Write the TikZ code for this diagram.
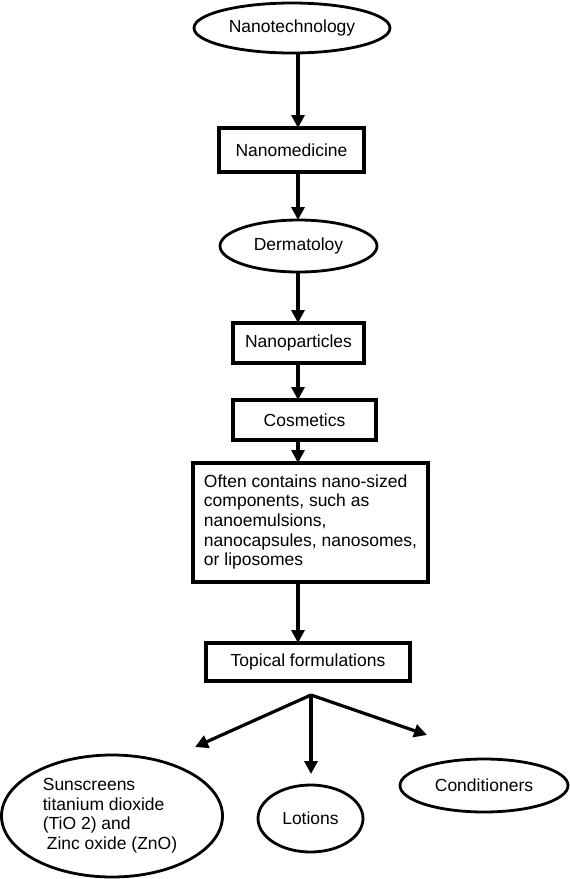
\documentclass[tikz,border=0pt]{standalone}
\usepackage{fontspec}
\setmainfont{Liberation Sans}
\usetikzlibrary{shapes.geometric,arrows.meta}
\begin{document}
\begin{tikzpicture}[x=1pt,y=-1pt,
  every node/.style={font=\fontsize{17.5}{19.7}\selectfont, inner sep=0pt, outer sep=0pt},
  oval/.style={draw, ellipse, line width=2.8pt},
  boxnode/.style={draw, rectangle, line width=3.6pt},
  flow/.style={line width=3.2pt, -{Triangle[length=13pt,width=13pt]}}]
\useasboundingbox (0,0) rectangle (570,879);
\coordinate (ax) at (298,0);
\node[oval, minimum width=196pt, minimum height=50pt] (nt) at (292,28) {Nanotechnology};
\node[boxnode, minimum width=145pt, minimum height=44pt] (nm) at (291.5,150) {Nanomedicine};
\node[oval, minimum width=157pt, minimum height=52pt] (dm) at (298.5,246) {Dermatoloy};
\node[boxnode, minimum width=131pt, minimum height=40pt] (np) at (298.5,343) {Nanoparticles};
\node[boxnode, minimum width=143pt, minimum height=40pt] (cs) at (304.5,420) {Cosmetics};
\node[boxnode, minimum width=235pt, minimum height=119pt] (oc) at (310.5,522.5) {%
  \begin{tabular}{@{}l@{}}
  Often contains nano-sized\\
  components, such as\\
  nanoemulsions,\\
  nanocapsules, nanosomes,\\
  or liposomes\end{tabular}};
\node[boxnode, minimum width=204pt, minimum height=38pt] (tf) at (308,662) {Topical formulations};
\node[oval, minimum width=221pt, minimum height=122pt] (ss) at (112,816) {%
  \raisebox{4pt}{\begin{tabular}{@{}l@{}}
  Sunscreens\\
  titanium dioxide\\
  (TiO 2) and\\
  \hspace*{4pt}Zinc oxide (ZnO)\end{tabular}}\hspace*{4pt}};
\node[oval, minimum width=105pt, minimum height=67pt] (lo) at (310.5,818.5) {Lotions};
\node[oval, minimum width=168pt, minimum height=53pt] (co) at (484,785.5) {Conditioners};
\draw[flow] (nt.south -| ax) -- (nm.north -| ax);
\draw[flow] (nm.south -| ax) -- (dm.north -| ax);
\draw[flow] (dm.south -| ax) -- (np.north -| ax);
\draw[flow] (np.south -| ax) -- (cs.north -| ax);
\draw[flow] (cs.south -| ax) -- (oc.north -| ax);
\draw[flow] (oc.south -| ax) -- (tf.north -| ax);
\coordinate (br) at (311,695);
\coordinate (tl) at (195,747);
\coordinate (tm) at (311,774);
\coordinate (tr) at (427,735);
\draw[flow] (br) -- (tl);
\draw[flow] (br) -- (tm);
\draw[flow] (br) -- (tr);
\end{tikzpicture}
\end{document}
